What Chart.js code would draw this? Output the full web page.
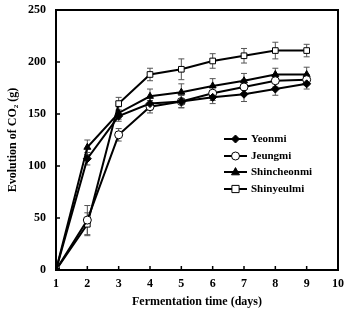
<!DOCTYPE html>
<html>
<head>
<meta charset="utf-8">
<script src="https://cdn.jsdelivr.net/npm/chart.js@4/dist/chart.umd.min.js"></script>
<style>
  html, body { margin: 0; padding: 0; background: #fff; }
  #wrap { width: 347px; height: 309px; }
</style>
</head>
<body>
<div id="wrap"><canvas id="co2Chart" width="347" height="309"></canvas></div>
<script>
// Data
const days = [1, 2, 3, 4, 5, 6, 7, 8, 9];
const yeonmi      = [0, 107, 148, 160, 162, 166, 169, 174, 179];
const jeungmi     = [0, 48, 130, 157, 162, 170, 176, 182, 183];
const shincheonmi = [0, 118, 151, 167, 171, 177, 182, 188, 188];
const shinyeulmi  = [0, 44, 160, 188, 193, 201, 206, 211, 211];

// Error bar half-widths
const yeonmiErr      = [0, 6, 5, 6, 6, 6, 7, 6, 5];
const jeungmiErr     = [0, 14, 6, 6, 6, 7, 7, 6, 5];
const shincheonmiErr = [0, 7, 6, 7, 8, 7, 7, 6, 7];
const shinyeulmiErr  = [0, 11, 6, 6, 10, 7, 7, 8, 6];

const xTicks = [1, 2, 3, 4, 5, 6, 7, 8, 9, 10];
const yTicks = [0, 50, 100, 150, 200, 250];

const FONT = "'Liberation Serif', 'Times New Roman', serif";
const ctx = document.getElementById('co2Chart').getContext('2d');

function series(label, values, errs, style, fill) {
    return {
        label: label,
        data: days.map((d, i) => ({ x: d, y: values[i] })),
        errs: errs,
        borderColor: '#000',
        borderWidth: 2,
        pointStyle: style,
        pointRadius: 4,
        pointBorderWidth: 1,
        pointBorderColor: '#000',
        pointBackgroundColor: fill,
        tension: 0
    };
}

function drawMarker(c, style, x, y, r) {
    if (style === 'circle') {
        c.arc(x, y, r, 0, Math.PI * 2);
    } else if (style === 'rect') {
        c.rect(x - r * 0.9, y - r * 0.9, r * 1.8, r * 1.8);
    } else if (style === 'rectRot') {
        c.moveTo(x, y - r); c.lineTo(x + r, y); c.lineTo(x, y + r); c.lineTo(x - r, y); c.closePath();
    } else if (style === 'triangle') {
        c.moveTo(x, y - r * 1.1); c.lineTo(x + r, y + r * 0.7); c.lineTo(x - r, y + r * 0.7); c.closePath();
    }
}

// error bars, frame, inward ticks and legend
const extras = {
    id: 'extras',
    beforeDatasetsDraw(chart) {
        const c = chart.ctx;
        const ys = chart.scales.y;
        c.save();
        c.strokeStyle = '#555';
        c.lineWidth = 1;
        chart.data.datasets.forEach((ds, di) => {
            const meta = chart.getDatasetMeta(di);
            meta.data.forEach((pt, i) => {
                const e = ds.errs[i];
                if (!e) return;
                const v = ds.data[i].y;
                const top = ys.getPixelForValue(v + e);
                const bot = ys.getPixelForValue(v - e);
                c.beginPath();
                c.moveTo(pt.x, top); c.lineTo(pt.x, bot);
                c.moveTo(pt.x - 3, top); c.lineTo(pt.x + 3, top);
                c.moveTo(pt.x - 3, bot); c.lineTo(pt.x + 3, bot);
                c.stroke();
            });
        });
        c.restore();
    },
    afterDraw(chart) {
        const c = chart.ctx;
        const a = chart.chartArea;
        const xs = chart.scales.x, ys = chart.scales.y;
        c.save();
        c.strokeStyle = '#000';
        c.lineWidth = 2;
        c.strokeRect(a.left, a.top, a.right - a.left, a.bottom - a.top);
        c.lineWidth = 1.5;
        c.beginPath();
        xTicks.forEach(t => {
            const px = xs.getPixelForValue(t);
            c.moveTo(px, a.bottom); c.lineTo(px, a.bottom - 4);
        });
        yTicks.forEach(t => {
            const py = ys.getPixelForValue(t);
            c.moveTo(a.left, py); c.lineTo(a.left + 4, py);
        });
        c.stroke();

        // legend inside the plot
        const lx = 224, lw = 23, rowY = [139, 156, 172, 189];
        c.font = 'bold 11px ' + FONT;
        c.textBaseline = 'middle';
        chart.data.datasets.forEach((ds, i) => {
            const y = rowY[i];
            c.strokeStyle = '#000';
            c.lineWidth = 2;
            c.beginPath();
            c.moveTo(lx, y); c.lineTo(lx + lw, y);
            c.stroke();
            c.fillStyle = ds.pointBackgroundColor;
            c.lineWidth = 1;
            c.beginPath();
            drawMarker(c, ds.pointStyle, lx + lw / 2, y, 4);
            c.fill(); c.stroke();
            c.fillStyle = '#000';
            c.fillText(ds.label, lx + lw + 4, y);
        });
        c.restore();
    }
};

new Chart(ctx, {
    type: 'line',
    data: {
        datasets: [
            series('Yeonmi', yeonmi, yeonmiErr, 'rectRot', '#000'),
            series('Jeungmi', jeungmi, jeungmiErr, 'circle', '#fff'),
            series('Shincheonmi', shincheonmi, shincheonmiErr, 'triangle', '#000'),
            series('Shinyeulmi', shinyeulmi, shinyeulmiErr, 'rect', '#fff')
        ]
    },
    options: {
        responsive: false,
        animation: false,
        layout: { padding: { left: 0, right: 9, top: 10, bottom: 0 } },
        plugins: {
            legend: { display: false },
            tooltip: { enabled: false }
        },
        scales: {
            x: {
                type: 'linear',
                min: 1,
                max: 10,
                afterFit: s => { s.height = 39; s.paddingLeft = 0; s.paddingRight = 0; },
                afterBuildTicks: s => { s.ticks = xTicks.map(v => ({ value: v })); },
                grid: { display: false, drawTicks: false },
                border: { display: false },
                ticks: {
                    color: '#000',
                    padding: 7,
                    font: { family: FONT, size: 12, weight: 'bold' }
                },
                title: {
                    display: true,
                    text: 'Fermentation time (days)',
                    color: '#000',
                    padding: { top: 4, bottom: 0 },
                    font: { family: FONT, size: 12, weight: 'bold' }
                }
            },
            y: {
                min: 0,
                max: 250,
                afterFit: s => { s.width = 56; s.paddingTop = 0; s.paddingBottom = 0; },
                afterBuildTicks: s => { s.ticks = yTicks.map(v => ({ value: v })); },
                grid: { display: false, drawTicks: false },
                border: { display: false },
                ticks: {
                    color: '#000',
                    padding: 10,
                    font: { family: FONT, size: 12, weight: 'bold' }
                },
                title: {
                    display: true,
                    text: 'Evolution of CO₂ (g)',
                    color: '#000',
                    padding: { top: 6, bottom: 0 },
                    font: { family: FONT, size: 12, weight: 'bold' }
                }
            }
        }
    },
    plugins: [extras]
});
</script>
</body>
</html>
